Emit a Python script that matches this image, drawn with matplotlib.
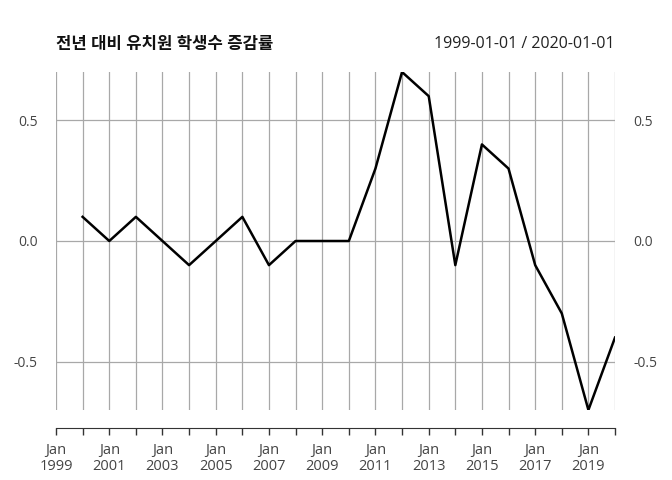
import datetime as dt
import matplotlib
matplotlib.use("Agg")
import matplotlib.pyplot as plt
import matplotlib.dates as mdates

plt.rcParams['font.family'] = ['Open Sans', 'Noto Sans CJK KR', 'DejaVu Sans']

# data: yearly change of kindergarten students
years = list(range(2000, 2021))
values = [0.1, 0.0, 0.1, 0.0, -0.1, 0.0, 0.1, -0.1, 0.0, 0.0, 0.0,
          0.3, 0.7, 0.6, -0.1, 0.4, 0.3, -0.1, -0.3, -0.7, -0.4]
title = "전년 대비 유치원 학생수 증감률"
period = "1999-01-01 / 2020-01-01"

dates = [dt.date(y, 1, 1) for y in years]
grid_years = list(range(1999, 2021))
grid_dates = [dt.date(y, 1, 1) for y in grid_years]
label_dates = [dt.date(y, 1, 1) for y in range(1999, 2020, 2)]

fig = plt.figure(figsize=(6.72, 4.8), dpi=100)
ax = fig.add_axes([56 / 672, 70 / 480, (615 - 56) / 672, (410 - 72) / 480])

gray = "#a8a8a8"
for d in grid_dates:
    ax.axvline(d, color=gray, lw=0.9, zorder=1)
for yv in [-0.5, 0.0, 0.5]:
    ax.axhline(yv, color=gray, lw=0.9, zorder=1)

ax.plot(dates, values, color="black", lw=1.8, zorder=3)

ax.set_xlim(grid_dates[0], grid_dates[-1])
ax.set_ylim(-0.7, 0.7)

for s in ["top", "left", "right"]:
    ax.spines[s].set_visible(False)
ax.spines["bottom"].set_position(("outward", 13))
ax.spines["bottom"].set_color("#333333")

ax.set_xticks(grid_dates, minor=True)
ax.set_xticks(label_dates)
ax.xaxis.set_major_formatter(mdates.DateFormatter("%b\n%Y"))
ax.tick_params(axis="x", which="both", direction="out", length=5, width=1,
               color="#333333", labelsize=10.5, labelcolor="#444444", pad=6)
for lab in ax.get_xticklabels():
    lab.set_linespacing(1.1)

ax.set_yticks([-0.5, 0.0, 0.5])
ax.set_yticklabels(["-0.5", "0.0", "0.5"])
ax.tick_params(axis="y", length=0, labelsize=10, labelcolor="#444444",
               labelleft=True, labelright=True, pad=13)

fig.text(56 / 672, 1 - 44 / 480, title, fontsize=12, fontweight="bold",
         ha="left", va="center", color="#111111")
fig.text(615 / 672, 1 - 44 / 480, period, fontsize=11.5, ha="right",
         va="center", color="#222222")

fig.savefig("out.png", dpi=100)
